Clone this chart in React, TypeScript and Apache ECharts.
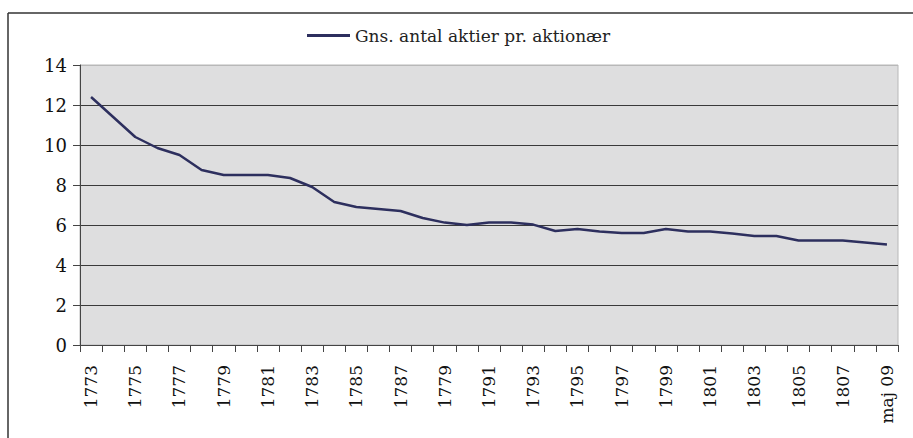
import React, { useEffect, useRef } from "react";
import * as echarts from "echarts";

const categories: string[] = [
  "1773", "1774", "1775", "1776", "1777", "1778", "1779", "1780", "1781", "1782",
  "1783", "1784", "1785", "1786", "1787", "1788", "1779", "1790", "1791", "1792",
  "1793", "1794", "1795", "1796", "1797", "1798", "1799", "1800", "1801", "1802",
  "1803", "1804", "1805", "1806", "1807", "1808", "maj 09",
];

const avgShares: number[] = [
  12.4, 11.4, 10.4, 9.85, 9.5, 8.75, 8.5, 8.5, 8.5, 8.35,
  7.9, 7.15, 6.9, 6.8, 6.7, 6.35, 6.12, 6.0, 6.13, 6.13,
  6.02, 5.7, 5.8, 5.68, 5.6, 5.6, 5.8, 5.68, 5.68, 5.57,
  5.45, 5.45, 5.23, 5.23, 5.23, 5.13, 5.02,
];

const seriesName = "Gns. antal aktier pr. aktionær";
const yTicks = { min: 0, max: 14, interval: 2 };
const serifFont = "'DejaVu Serif', serif";

export default function App() {
  const ref = useRef<HTMLDivElement>(null);
  useEffect(() => {
    if (!ref.current) return;
    const chart = echarts.init(ref.current, undefined, { renderer: "svg" });
    const gridColors = ["#3a3a3a", "#3a3a3a", "#3a3a3a", "#3a3a3a", "#3a3a3a", "#3a3a3a", "#3a3a3a", "#b8b8b8"];
    chart.setOption({
      animation: false,
      backgroundColor: "#ffffff",
      graphic: [
        { type: "line", shape: { x1: 8, y1: 13, x2: 913, y2: 13 }, style: { stroke: "#333", lineWidth: 1.5 } },
        { type: "line", shape: { x1: 8, y1: 13, x2: 8, y2: 438 }, style: { stroke: "#333", lineWidth: 1.5 } },
      ],
      legend: {
        show: true,
        left: 302,
        top: 22,
        itemWidth: 43,
        itemHeight: 3,
        itemGap: 12,
        data: [{ name: seriesName, icon: "rect" }],
        textStyle: { fontFamily: serifFont, fontSize: 17, color: "#222" },
      },
      grid: {
        left: 80,
        right: 15,
        top: 65,
        bottom: 93,
        show: true,
        backgroundColor: "#dededf",
        borderColor: "#b8b8b8",
        borderWidth: 1,
      },
      xAxis: {
        type: "category",
        data: categories,
        boundaryGap: true,
        axisLine: { show: true, lineStyle: { color: "#444", width: 1 } },
        axisTick: { show: true, interval: 0, length: 7, alignWithLabel: false, lineStyle: { color: "#444" } },
        axisLabel: {
          interval: 1,
          rotate: 90,
          margin: 20,
          fontFamily: serifFont,
          fontSize: 17,
          color: "#111",
        },
        splitLine: { show: false },
      },
      yAxis: {
        type: "value",
        min: yTicks.min,
        max: yTicks.max,
        interval: yTicks.interval,
        axisLine: { show: true, lineStyle: { color: "#444", width: 1 } },
        axisTick: { show: true, length: 7, lineStyle: { color: "#444" } },
        axisLabel: { margin: 13, fontFamily: serifFont, fontSize: 18, color: "#111" },
        splitLine: { show: true, lineStyle: { color: gridColors, width: 1 } },
      },
      series: [
        {
          name: seriesName,
          type: "line",
          data: avgShares,
          symbol: "none",
          lineStyle: { color: "#2d2f5e", width: 2.5 },
          itemStyle: { color: "#2d2f5e" },
        },
      ],
    });
    return () => chart.dispose();
  }, []);
  return (
    <div
      ref={ref}
      style={{ position: "absolute", left: 0, top: 0, width: 913, height: 438 }}
    />
  );
}
